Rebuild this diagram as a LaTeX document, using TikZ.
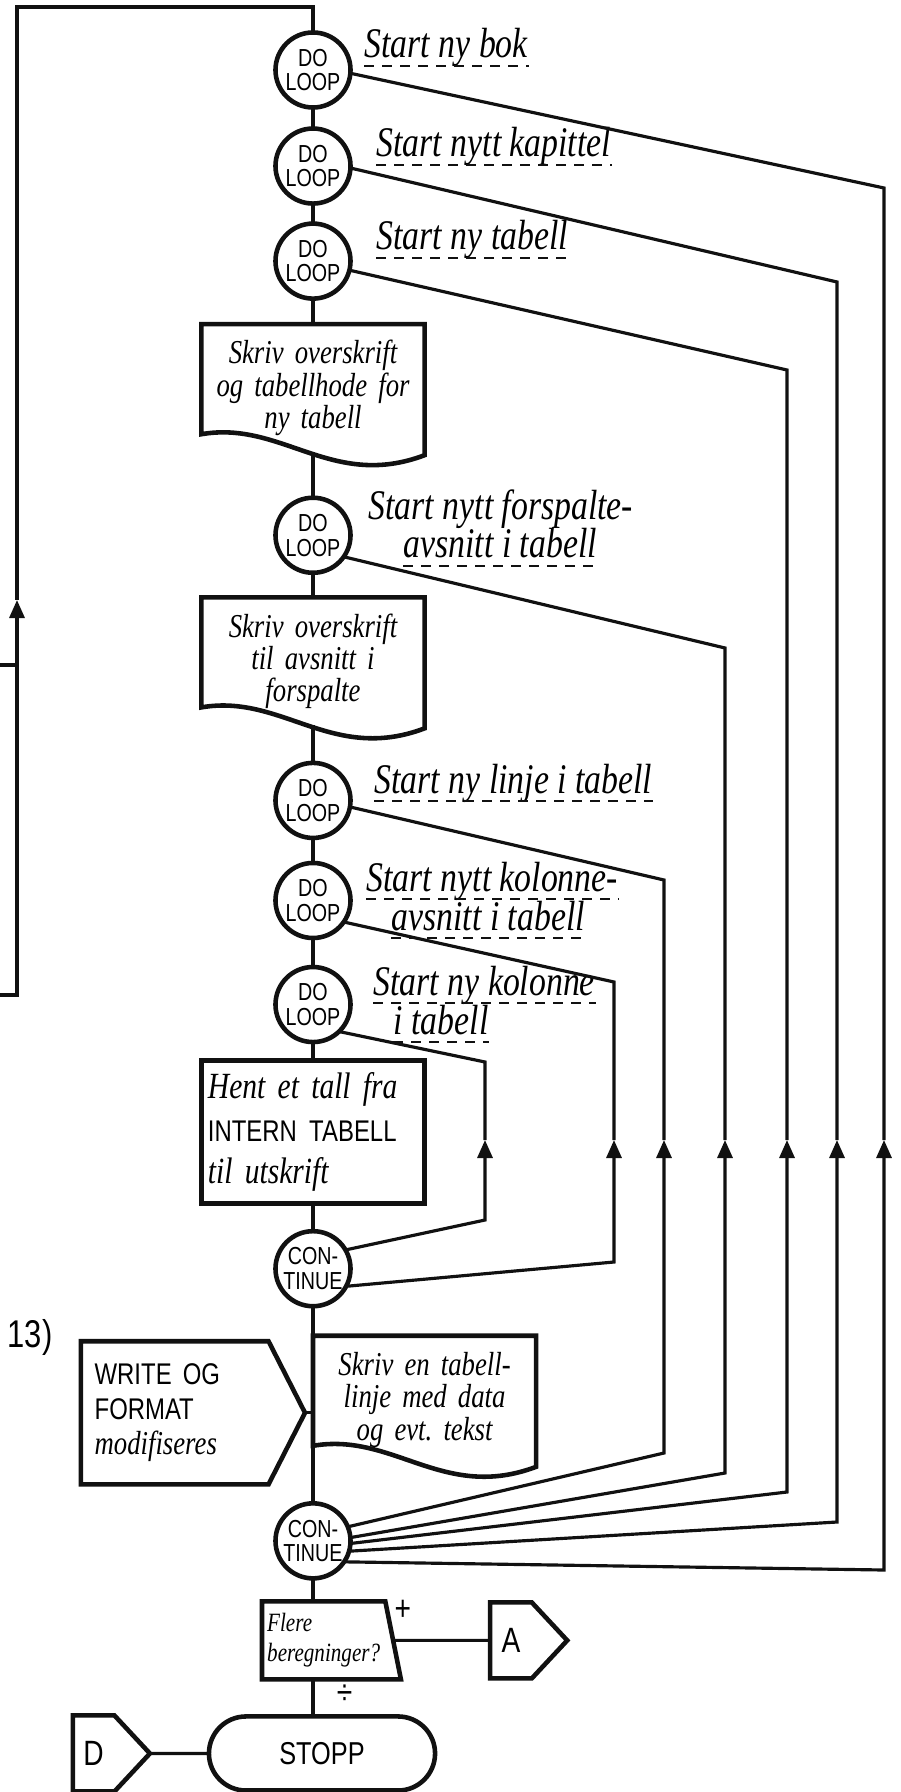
\documentclass[tikz,border=0pt]{standalone}
\usepackage{fontspec}
\setmainfont{Liberation Serif}[FakeStretch=0.8]
\setsansfont{Liberation Sans}[FakeStretch=0.8]
\usetikzlibrary{shapes.geometric, shapes.symbols, arrows.meta, positioning, calc}
\definecolor{ink}{HTML}{111111}
\newcommand{\handfont}[2]{\fontsize{#1}{#2}\selectfont\itshape}
\newcommand{\printcaps}[1]{\sffamily\upshape\fontsize{#1}{#1}\selectfont}
% outline of a document symbol drawn round a node with a wavy foot
\newcommand{\docwave}[1]{%
  \draw[wire, line width=1.3pt] ($(#1.south west)+(0,-18)$) |- (#1.north east)
    -- ($(#1.south east)+(0,3)$)
    .. controls ($(#1.south west)!0.585!(#1.south east)+(0,38)$)
           and ($(#1.south west)!0.36!(#1.south east)+(0,-32)$)
    .. ($(#1.south west)+(0,-18)$) -- cycle;}
\tikzset{
  wire/.style    = {draw=ink, line width=0.9pt},
  flow/.style    = {wire, -{Triangle[length=1.8mm, width=1.5mm]}},
  loopc/.style   = {circle, draw=ink, line width=1.3pt, minimum size=0.75cm, inner sep=0pt,
                    outer sep=0pt, align=center, font=\printcaps{7}},
  docbox/.style  = {rectangle, minimum width=2.23cm, minimum height=1.28cm, text width=2.1cm,
                    align=center, inner sep=0pt, outer sep=0pt, font=\handfont{9.5}{9.2}},
  procbox/.style = {rectangle, draw=ink, line width=1.3pt, minimum width=2.23cm,
                    minimum height=1.43cm, text width=2.1cm, align=left, inner sep=0pt,
                    outer sep=0pt, font=\handfont{10.5}{12}},
  notebox/.style = {signal, signal to=east, signal pointer angle=126, draw=ink, line width=1.3pt,
                    minimum width=2.24cm, minimum height=1.43cm, text width=1.6cm, align=left,
                    inner sep=0pt, outer sep=0pt, font=\handfont{9.5}{10}},
  decide/.style  = {trapezium, trapezium left angle=90, trapezium right angle=76,
                    trapezium stretches=true, draw=ink, line width=1.3pt, minimum width=1.39cm,
                    minimum height=0.78cm, align=left, inner sep=1pt, outer sep=0pt,
                    font=\handfont{7.5}{8.5}},
  stopbox/.style = {rectangle, rounded corners=0.37cm, draw=ink, line width=1.3pt,
                    minimum width=2.26cm, minimum height=0.74cm, outer sep=0pt, font=\printcaps{9}},
  offpage/.style = {signal, signal to=east, signal pointer angle=94, draw=ink, line width=1.3pt,
                    minimum width=0.77cm, minimum height=0.76cm, inner sep=0pt, outer sep=0pt,
                    font=\printcaps{10}},
  tagline/.style = {inner sep=0pt, anchor=base west, font=\handfont{12}{13}},
  uline/.style   = {draw=ink, line width=0.8pt, dash pattern=on 0.1cm off 0.08cm},
}

\begin{document}
\begin{tikzpicture}[x=0.01cm, y=-0.01cm]
\useasboundingbox (0,0) rectangle (901,1792);

% ---- Main spine ----
\node[loopc] (dl1) at (313,70) {DO\\LOOP};
\node[loopc, below=0.21cm of dl1] (dl2) {DO\\LOOP};
\node[loopc, below=0.20cm of dl2] (dl3) {DO\\LOOP};
\node[docbox, below=0.255cm of dl3] (hdr) {Skriv overskrift\\og tabellhode for\\ny tabell};
\node[loopc, below=0.455cm of hdr] (dl4) {DO\\LOOP};
\node[docbox, below=0.245cm of dl4] (sec) {Skriv overskrift\\til avsnitt i\\forspalte};
\node[loopc, below=0.375cm of sec] (dl5) {DO\\LOOP};
\node[loopc, below=0.25cm of dl5] (dl6) {DO\\LOOP};
\node[loopc, below=0.29cm of dl6] (dl7) {DO\\LOOP};
\node[procbox, below=0.185cm of dl7] (fetch)
  {Hent et tall fra\\{\printcaps{8.5}INTERN TABELL}\\til utskrift};
\node[loopc, below=0.275cm of fetch] (ct1) {CON-\\TINUE};
\node[docbox, below=0.295cm of ct1.south, anchor=north west] (row)
  {Skriv en tabell-\\linje med data\\og evt.\ tekst};
\node[loopc, below=0.395cm of row.south west] (ct2) {CON-\\TINUE};

% ---- Exit part ----
\coordinate (mt) at ($(ct2.south)+(0,23)$);
\node[decide, anchor=top left corner] (more) at ($(mt)+(-51,0)$) {Flere\\beregninger?};
\coordinate (mb) at (ct2 |- more.south);
\node[stopbox, below=0.37cm of mb, xshift=0.09cm] (stop) {STOPP};
\node[offpage, left=0.59cm of stop] (conD) {D};
\node[offpage, right=0.97cm of more] (conA) {A};

% ---- Annotation ----
\node[notebox, left=0.08cm of row.west, yshift=-0.13cm] (fmt)
  {{\printcaps{8.5}WRITE OG}\\{\printcaps{8.5}FORMAT}\\modifiseres};
\node[font=\printcaps{11}] (num) at (30,1337) {13)};

\docwave{hdr}
\docwave{sec}
\docwave{row}

% ---- Loop labels ----
\node[tagline] (lb1)  at (364,58)   {Start ny bok};
\node[tagline] (lb2)  at (376,157)  {Start nytt kapittel};
\node[tagline] (lb3)  at (376,250)  {Start ny tabell};
\node[tagline] (lb4a) at (368,520)  {Start nytt forspalte-};
\node[tagline] (lb4b) at (403,558)  {avsnitt i tabell};
\node[tagline] (lb5)  at (374,793)  {Start ny linje i tabell};
\node[tagline] (lb6a) at (366,891)  {Start nytt kolonne-};
\node[tagline] (lb6b) at (391,930)  {avsnitt i tabell};
\node[tagline] (lb7a) at (373,995)  {Start ny kolonne};
\node[tagline] (lb7b) at (393,1034) {i tabell};
\foreach \n in {lb1,lb2,lb3,lb4b,lb5,lb6a,lb6b,lb7a,lb7b}
  \draw[uline] ($(\n.base west)+(0,8)$) -- ($(\n.base east)+(0,8)$);

% ===== Spine connectors =====
\draw[wire] (dl1) -- (dl2);
\draw[wire] (dl2) -- (dl3);
\draw[wire] (dl3) -- (hdr);
\draw[wire] (hdr.south) -- (dl4);
\draw[wire] (dl4) -- (sec);
\draw[wire] (sec.south) -- (dl5);
\draw[wire] (dl5) -- (dl6);
\draw[wire] (dl6) -- (dl7);
\draw[wire] (dl7) -- (fetch);
\draw[wire] (fetch) -- (ct1);
\draw[wire] (ct1) -- (row.north west);
\draw[wire] ($(row.south west)+(0,-18)$) -- (ct2);
\draw[wire] (ct2) -- (mt);
\draw[wire] (mb) -- node[right=3pt, pos=0.4, font=\printcaps{10}] {÷} (mb |- stop.north);
\draw[wire] (more) -- node[above=2pt, pos=0.1, font=\printcaps{10}] {+} (conA);
\draw[wire] (conD) -- (stop);
\draw[wire] (fmt.east) -- (fmt.east -| row.west);

% ===== Return lines on the right (CONTINUE back to DO LOOP) =====
\coordinate (r1t) at (884,188);  \coordinate (r1a) at (884,1140); \coordinate (r1b) at (884,1570);
\coordinate (r2t) at (837,282);  \coordinate (r2a) at (837,1140); \coordinate (r2b) at (837,1522);
\coordinate (r3t) at (787,370);  \coordinate (r3a) at (787,1140); \coordinate (r3b) at (787,1492);
\coordinate (r4t) at (725,648);  \coordinate (r4a) at (725,1140); \coordinate (r4b) at (725,1473);
\coordinate (r5t) at (664,880);  \coordinate (r5a) at (664,1140); \coordinate (r5b) at (664,1453);
\coordinate (r6t) at (614,982);  \coordinate (r6a) at (614,1140); \coordinate (r6b) at (614,1262);
\coordinate (r7t) at (485,1062); \coordinate (r7a) at (485,1140); \coordinate (r7b) at (485,1220);

\draw[flow] (ct2.-34) -- (r1b) -- (r1a);  \draw[wire] (r1a) -- (r1t) -- (dl1.-5);
\draw[flow] (ct2.-16) -- (r2b) -- (r2a);  \draw[wire] (r2a) -- (r2t) -- (dl2.-3);
\draw[flow] (ct2.-4)  -- (r3b) -- (r3a);  \draw[wire] (r3a) -- (r3t) -- (dl3.-14);
\draw[flow] (ct2.5)   -- (r4b) -- (r4a);  \draw[wire] (r4a) -- (r4t) -- (dl4.-35);
\draw[flow] (ct2.22)  -- (r5b) -- (r5a);  \draw[wire] (r5a) -- (r5t) -- (dl5.-10);
\draw[flow] (ct1.-28) -- (r6b) -- (r6a);  \draw[wire] (r6a) -- (r6t) -- (dl6.-35);
\draw[flow] (ct1.30)  -- (r7b) -- (r7a);  \draw[wire] (r7a) -- (r7t) -- (dl7.-46);

% ===== Return line on the left =====
\coordinate (lin1) at (0,995);
\coordinate (lin2) at (0,665);
\coordinate (lup)  at (17,600);
\coordinate (ltop) at (17,7);
\draw[flow] (lin1) -| (lup);
\draw[wire] (lup) -- (ltop) -| (dl1);
\draw[wire] (lin2) -- (lin2 -| lup);

\end{tikzpicture}
\end{document}
